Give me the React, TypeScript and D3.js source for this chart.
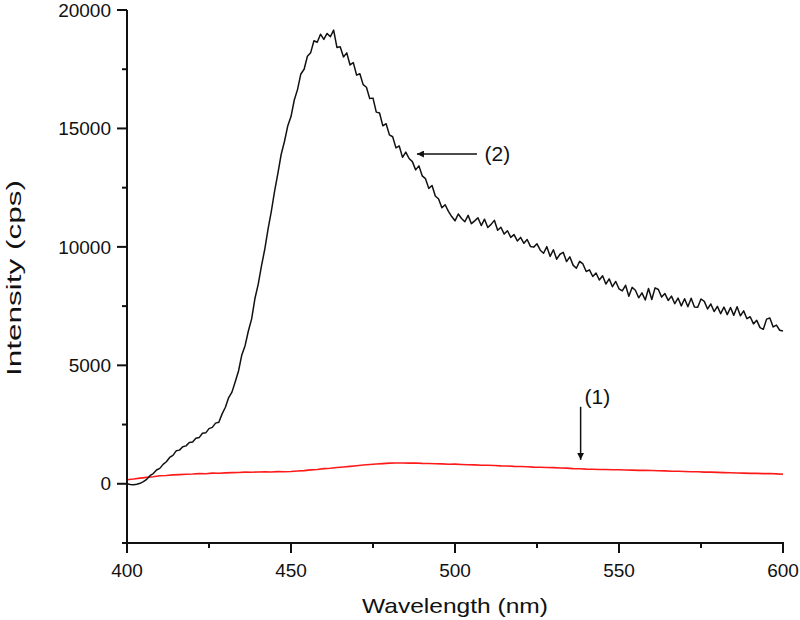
import React from "react";
import * as d3 from "d3";

// Spectrum (2): intensity at 1 nm steps from 400 to 600 nm
const WL_START = 400;
const series2: number[] = [
  0, -30, -45, -20, 20, 90, 190, 340, 430, 580,
  650, 820, 930, 1110, 1200, 1390, 1420, 1560, 1600, 1740,
  1760, 1920, 1950, 2130, 2150, 2330, 2380, 2560, 2600, 2950,
  3230, 3640, 3870, 4310, 4760, 5440, 5830, 6450, 6960, 7820,
  8420, 9200, 9900, 10750, 11500, 12350, 13100, 13900, 14450, 15100,
  15500, 16200, 16650, 17300, 17500, 18050, 18200, 18700, 18640, 18980,
  18760, 19010, 18870, 19150, 18420, 18450, 18020, 18190, 17680, 17780,
  17250, 17310, 16850, 16740, 16260, 16280, 15690, 15650, 15110, 15200,
  14730, 14650, 14180, 14260, 13780, 14000, 13730, 13600, 13250, 13420,
  13000, 12880, 12470, 12590, 12150, 12020, 11650, 11780, 11500, 11280,
  11100, 11390, 11200, 11060, 11330, 10980, 11100, 11230, 10900, 11170,
  10820, 10950, 11120, 10700, 10830, 10540, 10680, 10400, 10520, 10250,
  10400, 10150, 10310, 10020, 9990, 10130, 9860, 9730, 10010, 9600,
  9880, 9480, 9690, 9770, 9380, 9580, 9230, 9100, 9390, 9280,
  8960, 9030, 8750, 8900, 8600, 8780, 8430, 8650, 8320, 8540,
  8230, 8140, 8380, 7920, 8290, 8170, 7850, 8060, 7760, 8240,
  7780, 8270, 8200, 7880, 8030, 7740, 7920, 7600, 7840, 7510,
  7810, 7470, 7830, 7460, 7450, 7800, 7700, 7380, 7590, 7270,
  7490, 7180, 7460, 7140, 7440, 7110, 7470, 7090, 7300, 6970,
  7050, 6750, 6900, 6590, 6520, 6950, 7000, 6620, 6700, 6480,
  6450,
];

// Spectrum (1): intensity at 2 nm steps from 400 to 600 nm
const series1: number[] = [
  170, 200, 240, 270, 300, 340, 350, 375, 385, 400,
  410, 430, 425, 450, 445, 460, 470, 475, 490, 485,
  500, 505, 500, 515, 510, 520, 540, 555, 585, 600,
  640, 655, 690, 710, 735, 760, 790, 815, 835, 850,
  870, 875, 880, 870, 875, 860, 855, 845, 840, 825,
  830, 815, 805, 800, 785, 780, 770, 755, 750, 735,
  730, 720, 705, 700, 690, 680, 665, 660, 640, 635,
  620, 615, 600, 605, 590, 590, 580, 575, 565, 565,
  560, 550, 545, 530, 530, 520, 510, 505, 490, 490,
  480, 470, 465, 455, 450, 440, 440, 430, 435, 420,
  400,
];

const xTicks = [400, 450, 500, 550, 600];
const xMinor = [425, 475, 525, 575];
const yTicks = [0, 5000, 10000, 15000, 20000];
const yMinor = [-2500, 2500, 7500, 12500, 17500];

const xLabel = "Wavelength (nm)";
const yLabel = "Intensity (cps)";

const ann2 = { label: "(2)", tipX: 488.4, tipY: 13920, tailX: 506.7, tailY: 13920, textX: 509.0, textY: 13920 };
const ann1 = { label: "(1)", tipX: 538.3, tipY: 1010, tailX: 538.3, tailY: 3250, textX: 539.5, textY: 3360 };

export default function App() {
  const W = 800, H = 620;
  const x = d3.scaleLinear().domain([400, 600]).range([127, 783]);
  const y = d3.scaleLinear().domain([-2500, 20000]).range([543, 10]);

  const pts2: [number, number][] = series2.map((v, i) => [WL_START + i, v]);
  const pts1: [number, number][] = series1.map((v, i) => [WL_START + i * 2, v]);
  const line = d3.line<[number, number]>().x(d => x(d[0])).y(d => y(d[1]));

  const font = "'Liberation Sans', Arial, sans-serif";
  const axisY = y(-2500);
  const axisX = x(400);

  return (
    <svg width={W} height={H} style={{ position: "absolute", left: 0, top: 0, background: "#fff" }} fontFamily={font}>
      <defs>
        <marker id="ah" viewBox="0 0 10 10" refX="10" refY="5" markerWidth="7" markerHeight="7" markerUnits="userSpaceOnUse" orient="auto">
          <path d="M0,0 L10,5 L0,10 z" fill="#111" />
        </marker>
      </defs>
      <path d={line(pts1) || ""} fill="none" stroke="#ff1a1a" strokeWidth={1.6} />
      <path d={line(pts2) || ""} fill="none" stroke="#111" strokeWidth={1.5} strokeLinejoin="round" />

      <line x1={axisX} x2={axisX} y1={y(20000)} y2={axisY + 1} stroke="#111" strokeWidth={2} />
      <line x1={axisX - 1} x2={x(600) + 1} y1={axisY} y2={axisY} stroke="#111" strokeWidth={2} />

      {yTicks.map(t => (
        <g key={"yt" + t}>
          <line x1={axisX - 10} x2={axisX} y1={y(t)} y2={y(t)} stroke="#111" strokeWidth={2} />
          <text x={axisX - 16} y={y(t)} dy="0.35em" textAnchor="end" fontSize={19} fill="#111">{t}</text>
        </g>
      ))}
      {yMinor.map(t => (
        <line key={"ym" + t} x1={axisX - 5} x2={axisX} y1={y(t)} y2={y(t)} stroke="#111" strokeWidth={2} />
      ))}
      {xTicks.map(t => (
        <g key={"xt" + t}>
          <line x1={x(t)} x2={x(t)} y1={axisY} y2={axisY + 10} stroke="#111" strokeWidth={2} />
          <text x={x(t)} y={577} textAnchor="middle" fontSize={19} fill="#111">{t}</text>
        </g>
      ))}
      {xMinor.map(t => (
        <line key={"xm" + t} x1={x(t)} x2={x(t)} y1={axisY} y2={axisY + 5} stroke="#111" strokeWidth={2} />
      ))}

      <text x={455} y={613} textAnchor="middle" fontSize={21} textLength={186} lengthAdjust="spacingAndGlyphs" fill="#111">{xLabel}</text>
      <text transform={`translate(21,278) rotate(-90)`} textAnchor="middle" fontSize={21} textLength={196} lengthAdjust="spacingAndGlyphs" fill="#111">{yLabel}</text>

      {[ann2, ann1].map(a => (
        <g key={a.label}>
          <line x1={x(a.tailX)} y1={y(a.tailY)} x2={x(a.tipX)} y2={y(a.tipY)} stroke="#111" strokeWidth={1.5} markerEnd="url(#ah)" />
          <text x={x(a.textX)} y={y(a.textY)} dy={a === ann2 ? "0.35em" : "0"} fontSize={21} fill="#111">{a.label}</text>
        </g>
      ))}
    </svg>
  );
}
